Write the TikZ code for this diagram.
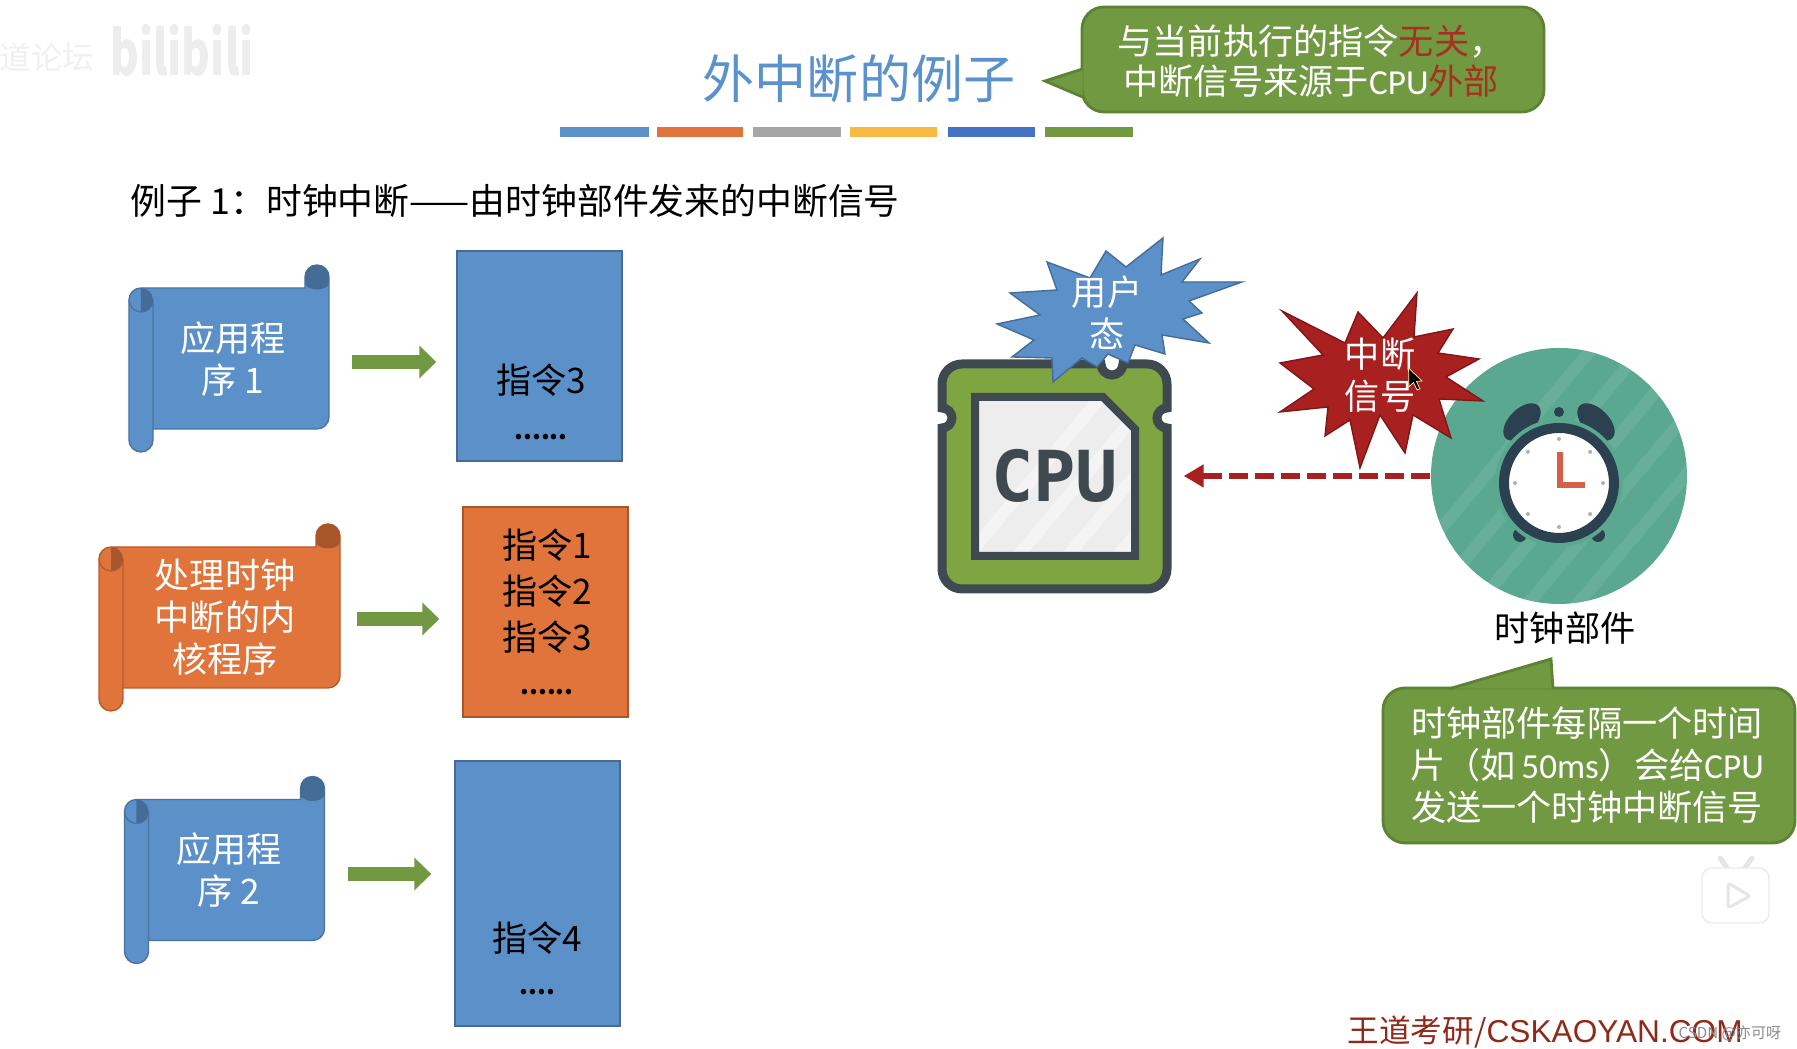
\documentclass[tikz,border=0pt]{standalone}
\usepackage{fontspec}
\setmainfont{Noto Sans CJK SC}
\newfontfamily\footerfont{Liberation Sans}
\newfontfamily\chipfont{DejaVu Sans Mono}
\newfontfamily\latinfont{Carlito}
\usetikzlibrary{arrows.meta,positioning}
\definecolor{ocean}{RGB}{91,144,201}
\definecolor{carrot}{RGB}{224,116,58}
\definecolor{leaf}{RGB}{112,153,66}
\definecolor{moss}{RGB}{92,130,52}
\definecolor{brick}{RGB}{168,32,32}
\definecolor{rust}{RGB}{168,48,30}
\definecolor{slate}{RGB}{62,74,80}
\definecolor{chipgreen}{RGB}{127,164,66}
\definecolor{teal}{RGB}{90,168,144}
\definecolor{clockdark}{RGB}{44,65,80}
\definecolor{hand}{RGB}{212,96,74}
\definecolor{titleblue}{RGB}{91,146,205}
\definecolor{amber}{RGB}{248,186,66}
\definecolor{royal}{RGB}{68,114,196}
\tikzset{
  body/.style={font=\fontsize{10}{12}\selectfont,align=center,inner sep=0pt},
  scrolltext/.style={body,text=white,minimum width=#1,minimum height=1.87cm},
  instr/.style={draw=#1!75!black,fill=#1,minimum width=1.65cm},
  dotrow/.style={font=\fontsize{7.2}{8}\selectfont\bfseries,anchor=base,inner sep=0pt},
  hint/.style={draw=moss,fill=leaf,rounded corners=.22cm,thick},
  hinttext/.style={body,text=white},
  hinttail/.style={draw=moss,fill=leaf,thick},
  blockarrow/.style={-{Triangle[length=.17cm,width=.32cm]},line width=.14cm,draw=leaf},
  burst/.style={draw=#1!75!black,fill=#1,line join=miter},
  stripe/.style={white,opacity=.09,line width=.12cm},
  pics/scroll/.style 2 args={code={
    \draw[draw=#1!80!black,fill=#1] (-#2,-.815) -- (-#2,.585) arc (180:90:.12) -- (#2-.24,.705)
      -- (#2-.24,.815) arc (180:0:.12) -- (#2,-.585) arc (0:-90:.12) -- (-#2+.24,-.705)
      -- (-#2+.24,-.815) arc (0:-180:.12) -- cycle;
    \draw[#1!80!black] (-#2+.24,-.705) -- (-#2+.24,.585) (-#2,.585) arc (180:360:.12);
    \fill[#1!75!black] (-#2+.12,.465) arc (-90:90:.12) -- cycle;
    \fill[#1!75!black] (#2-.24,.815) arc (180:0:.12) -- (#2,.755) arc (0:-180:.12 and .065) -- cycle;
  }},
}
\begin{document}
\begin{tikzpicture}
  \useasboundingbox (0,0) rectangle (17.97,10.49);
  % video marks
  \node[font=\fontsize{9}{9}\selectfont,text=black!6,inner sep=0pt] (forum) at (.47,9.92) {道论坛};
  \node[font=\fontsize{12.5}{12.5}\selectfont\bfseries,text=black!7,inner sep=0pt,yscale=1.4,transform shape] (site) at (1.82,9.99) {bilibili};
  % heading
  \node[font=\fontsize{14.8}{14.8}\selectfont,text=titleblue,inner sep=0pt] (title) at (8.59,9.70) {外中断的例子};
  \foreach \x/\e/\c in {5.60/6.49/ocean,6.57/7.43/carrot,7.53/8.41/black!35,8.50/9.37/amber,9.48/10.35/royal,10.45/11.33/leaf}
    \fill[\c] (\x,9.12) rectangle (\e,9.22);
  \node[hint,minimum width=4.62cm,minimum height=1.05cm] (hintA) at (13.13,9.895) {};
  \node[hinttext,font=\fontsize{10}{11.4}\selectfont] (hintAtext) at (13.11,9.88)
    {与当前执行的指令\textcolor{rust}{无关}，\\中断信号来源于{\latinfont CPU}\textcolor{rust}{外部}};
  \coordinate (tipA) at (10.45,9.68);
  \draw[hinttail] ([shift={(.02,-.095)}]hintA.west) -- (tipA) -- ([shift={(.02,-.375)}]hintA.west);
  \node[body,font=\fontsize{10.2}{12}\selectfont,anchor=west] (example) at (1.30,8.48) {例子 1：时钟中断——由时钟部件发来的中断信号};
  % scrolls
  \pic at (2.29,6.905) {scroll={ocean}{1.00}};
  \pic at (2.195,4.315) {scroll={carrot}{1.205}};
  \pic at (2.245,1.79) {scroll={ocean}{1.00}};
  \node[scrolltext=2cm] (prog1) at (2.33,6.90) {应用程\\序 1};
  \node[scrolltext=2.41cm] (prog2) at (2.25,4.32) {处理时钟\\中断的内\\核程序};
  \node[scrolltext=2cm] (prog3) at (2.29,1.79) {应用程\\序 2};
  % instruction stacks
  \node[instr=ocean,minimum height=2.10cm] (instr1) at (5.395,6.93) {};
  \node[instr=carrot,minimum height=2.10cm] (instr2) at (5.455,4.37) {};
  \node[instr=ocean,minimum height=2.65cm] (instr3) at (5.375,1.555) {};
  \node[body] (textA) at (5.41,6.69) {指令3};
  \node[dotrow] (dotsA) at (5.41,6.09) {......};
  \node[body,font=\fontsize{10}{13}\selectfont] (textB) at (5.47,4.58) {指令1\\指令2\\指令3};
  \node[dotrow] (dotsB) at (5.47,3.54) {......};
  \node[body] (textC) at (5.375,1.11) {指令4};
  \node[dotrow] (dotsC) at (5.375,.54) {....};
  \foreach \n/\a/\b/\c in {1/.18/-.03/.20,2/.105/-.02/.23,3/.18/-.04/.23} {
    \coordinate (from\n) at ([shift={(\a,\b)}]prog\n.east);
    \draw[blockarrow,shorten >=\c cm] (from\n) -- (from\n -| instr\n.west);
  }
  % cpu chip
  \draw[slate,line width=.09cm,fill=chipgreen] (9.62,4.60) arc (270:180:.2) -- (9.42,6.21) arc (-90:90:.1)
    -- (9.42,6.65) arc (180:90:.2) -- (11.01,6.85) arc (180:360:.11) -- (11.47,6.85) arc (90:0:.2)
    -- (11.67,6.41) arc (90:270:.1) -- (11.67,4.80) arc (0:-90:.2) -- cycle;
  \fill[black!7] (9.75,4.93) -- (9.75,6.52) -- (11.03,6.52) -- (11.35,6.20) -- (11.35,4.93) -- cycle;
  \begin{scope}
    \clip (9.75,4.93) -- (9.75,6.52) -- (11.03,6.52) -- (11.35,6.20) -- (11.35,4.93) -- cycle;
    \foreach \s in {9.4,9.9,10.4,10.9}
      \draw[stripe,opacity=.4] (\s,4.6) -- ++(50:3);
  \end{scope}
  \draw[slate,line width=.08cm] (9.75,4.93) -- (9.75,6.52) -- (11.03,6.52) -- (11.35,6.20) -- (11.35,4.93) -- cycle;
  \node[font=\fontsize{20}{20}\selectfont\chipfont\bfseries,text=slate,inner sep=0pt,minimum width=2.33cm,minimum height=2.33cm] (cpu) at (10.545,5.73) {CPU};
  % clock
  \node[circle,fill=teal,minimum size=2.56cm,inner sep=0pt] (clock) at (15.59,5.73) {};
  \begin{scope}
    \clip (15.59,5.73) circle (1.28);
    \foreach \s in {13.4,13.9,14.4,14.9,15.4,15.9,16.4}
      \draw[stripe] (\s,4) -- ++(50:4.5);
  \end{scope}
  \fill[clockdark,rotate around={45:(15.22,6.27)}] (15.22,6.27) ellipse (.23 and .13);
  \fill[clockdark,rotate around={-45:(15.96,6.27)}] (15.96,6.27) ellipse (.23 and .13);
  \fill[clockdark] (15.59,6.37) circle (.05);
  \fill[clockdark] (15.20,5.14) circle (.07) (15.98,5.14) circle (.07);
  \draw[teal,line width=.04cm] (15.59,5.66) circle (.62);
  \draw[clockdark,line width=.1cm,fill=white] (15.59,5.66) circle (.55);
  \begin{scope}[shift={(15.59,5.66)}]
    \foreach \a in {0,45,...,315}
      \fill[black!30] (\a:.44) circle (.02);
  \end{scope}
  \draw[hand,line width=.06cm] (15.60,5.97) -- (15.60,5.64) -- (15.85,5.64);
  \node[body,below=.06cm of clock,xshift=.06cm] (clockname) {时钟部件};
  % interrupt signal
  \draw[-{Triangle[length=.2cm,width=.22cm]},brick,line width=.06cm,dash pattern=on .19cm off .07cm,shorten >=.12cm] (clock.west) -- (cpu.east);
  \draw[burst=ocean] (11.63,8.11) -- (11.61,7.74) -- (12.00,7.90) -- (11.82,7.67) -- (12.42,7.67) -- (11.89,7.48)
    -- (12.02,7.36) -- (11.83,7.30) -- (12.09,7.06) -- (11.62,7.14) -- (11.65,6.95) -- (11.35,7.04) -- (11.28,6.86)
    -- (11.08,6.95) -- (10.97,6.82) -- (10.82,6.91) -- (10.53,6.67) -- (10.52,6.91) -- (10.12,6.92) -- (10.34,7.09)
    -- (9.97,7.25) -- (10.40,7.34) -- (10.10,7.56) -- (10.57,7.59) -- (10.47,7.87) -- (10.90,7.71) -- (11.06,7.98)
    -- (11.26,7.82) -- cycle;
  \node[body,text=white] (userstate) at (11.07,7.365) {用户\\态};
  \draw[burst=brick] (14.17,7.56) -- (14.14,7.12) -- (14.53,7.20) -- (14.38,6.96) -- (14.79,6.90) -- (14.46,6.72)
    -- (14.83,6.48) -- (14.39,6.50) -- (14.51,6.11) -- (14.13,6.34) -- (14.05,5.96) -- (13.80,6.34) -- (13.60,5.81)
    -- (13.50,6.29) -- (13.25,6.13) -- (13.28,6.42) -- (12.80,6.37) -- (13.14,6.60) -- (12.80,6.86) -- (13.23,6.94)
    -- (12.82,7.38) -- (13.45,7.06) -- (13.58,7.37) -- (13.83,7.11) -- cycle;
  \node[body,text=white] (signal) at (13.80,6.74) {中断\\信号};
  % pointer
  \draw[yellow!40,fill=black,line width=.2pt] (14.085,6.81) -- (14.09,6.62) -- (14.135,6.665) -- (14.17,6.59) -- (14.20,6.60) -- (14.165,6.675) -- (14.22,6.68) -- cycle;
  % note below the clock
  \node[hint,minimum width=4.12cm,minimum height=1.55cm] (hintB) at (15.89,2.835) {};
  \node[hinttext] (hintBtext) at (15.87,2.84) {时钟部件每隔一个时间\\片（如{\latinfont\,50ms}）会给{\latinfont CPU}\\发送一个时钟中断信号};
  \coordinate (tipB) at (15.51,3.90);
  \draw[hinttail] ([shift={(-1.39,-.02)}]hintB.north) -- (tipB) -- ([shift={(-.36,-.02)}]hintB.north);
  % player icon
  \draw[black!10,line width=.05cm,line cap=round] (17.27,1.81) -- (17.20,1.91) (17.45,1.81) -- (17.52,1.91);
  \draw[black!8,fill=white,rounded corners=.1cm] (17.02,1.26) rectangle (17.69,1.81);
  \draw[black!10,fill=white,line width=.03cm,rounded corners=.03cm] (17.28,1.41) -- (17.28,1.66) -- (17.50,1.53) -- cycle;
  % footer
  \node[font=\fontsize{9}{9}\selectfont,text=rust!85!black,anchor=west,inner sep=0pt] (brand) at (13.47,.165) {王道考研/{\footerfont CSKAOYAN.COM}};
  \node[font=\fontsize{4.3}{4.3}\selectfont,text=black!45,anchor=east,inner sep=0pt] (mark) at (17.82,.16) {CSDN @亦可呀};
\end{tikzpicture}
\end{document}
